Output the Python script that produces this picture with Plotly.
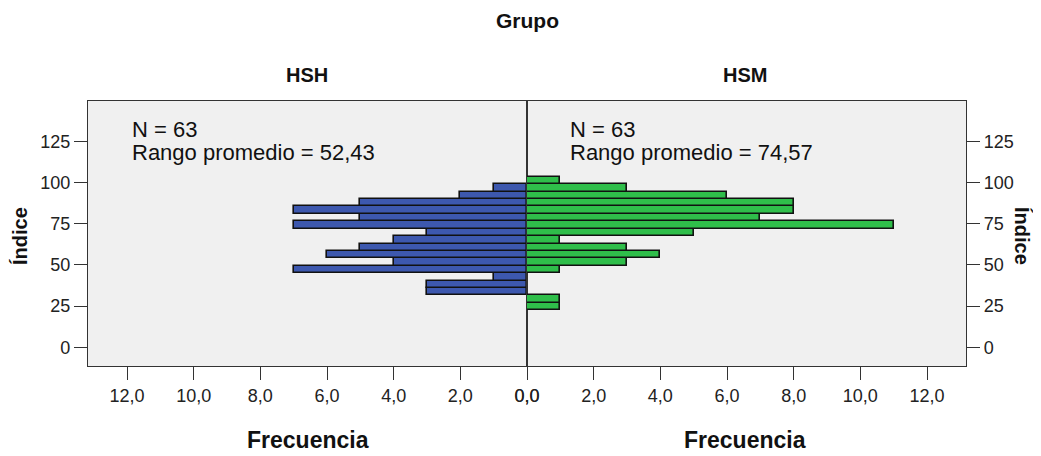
import plotly.graph_objects as go

# Bin centers (Índice), bottom to top, bin width 4.5
bin_centers = [24.75, 29.25, 33.75, 38.25, 42.75, 47.25, 51.75, 56.25, 60.75,
               65.25, 69.75, 74.25, 78.75, 83.25, 87.75, 92.25, 96.75, 101.25]
bin_width = 4.5
hsh_counts = [0, 0, 3, 3, 1, 7, 4, 6, 5, 4, 3, 7, 5, 7, 5, 2, 1, 0]
hsm_counts = [1, 1, 0, 0, 0, 1, 3, 4, 3, 1, 5, 11, 7, 8, 8, 6, 3, 1]

y_ticks = [0, 25, 50, 75, 100, 125]
x_ticks = [0, 2, 4, 6, 8, 10, 12]
x_ticktext = ["0,0", "2,0", "4,0", "6,0", "8,0", "10,0", "12,0"]

hsh_n = "N = 63"
hsh_rank = "Rango promedio = 52,43"
hsm_n = "N = 63"
hsm_rank = "Rango promedio = 74,57"

FONT = "Liberation Sans, Arial, sans-serif"
BLUE = "#3D58AE"
GREEN = "#2FBE4A"

fig = go.Figure()

hy = [y for y, c in zip(bin_centers, hsh_counts) if c > 0]
hx = [c for c in hsh_counts if c > 0]
gy = [y for y, c in zip(bin_centers, hsm_counts) if c > 0]
gx = [c for c in hsm_counts if c > 0]

fig.add_trace(go.Bar(x=hx, y=hy, orientation="h", width=bin_width,
                     marker=dict(color=BLUE, line=dict(color="#111111", width=1.6)),
                     xaxis="x", yaxis="y", showlegend=False))
fig.add_trace(go.Bar(x=gx, y=gy, orientation="h", width=bin_width,
                     marker=dict(color=GREEN, line=dict(color="#111111", width=1.6)),
                     xaxis="x2", yaxis="y2", showlegend=False))

xr = 13.17
yr = [-11.3, 149.5]
axis_common = dict(showline=True, linecolor="#333333", linewidth=1.2, mirror=True,
                   showgrid=False, zeroline=False, ticks="outside", ticklen=13,
                   tickwidth=1.3, automargin=False,
                   tickcolor="#333333", tickfont=dict(family=FONT, size=18, color="#222222"))

fig.update_layout(
    width=1033, height=448,
    margin=dict(l=80, r=75, t=93, b=90),
    paper_bgcolor="white", plot_bgcolor="#F0F0F0",
    bargap=0,
    xaxis=dict(domain=[0, 0.5], range=[xr, 0], tickvals=x_ticks, ticktext=x_ticktext,
               anchor="y", **axis_common),
    xaxis2=dict(domain=[0.5, 1], range=[0, xr], tickvals=x_ticks, ticktext=x_ticktext,
                anchor="y2", **axis_common),
    yaxis=dict(range=yr, tickvals=y_ticks, anchor="x", **axis_common),
    yaxis2=dict(range=yr, tickvals=y_ticks, anchor="x2", side="right", **axis_common),
    font=dict(family=FONT),
)


def lab(text, x, y, size, angle=0, xanchor="center"):
    return dict(text=text, x=x, y=y, xref="paper", yref="paper", xanchor=xanchor,
                yanchor="middle", showarrow=False, textangle=angle, align="left",
                font=dict(family=FONT, size=size, color="#111111"))


ann = [
    lab("<b>Grupo</b>", 0.5, 1.302, 21),
    lab("<b>HSH</b>", 0.249, 1.098, 20),
    lab("<b>HSM</b>", 0.748, 1.098, 20),
    lab("<b>Frecuencia</b>", 0.25, -0.28, 23),
    lab("<b>Frecuencia</b>", 0.748, -0.28, 23),
    lab("<b>Índice</b>", -0.0774, 0.4906, 20, angle=-90),
    lab("<b>Índice</b>", 1.0638, 0.4906, 20, angle=90),
    lab(hsh_n, 0.0478, 0.8906, 22, xanchor="left"),
    lab(hsh_rank, 0.0478, 0.8075, 22, xanchor="left"),
    lab(hsm_n, 0.5467, 0.8906, 22, xanchor="left"),
    lab(hsm_rank, 0.5467, 0.8075, 22, xanchor="left"),
]
fig.update_layout(annotations=ann)

fig.write_html("out.html")
